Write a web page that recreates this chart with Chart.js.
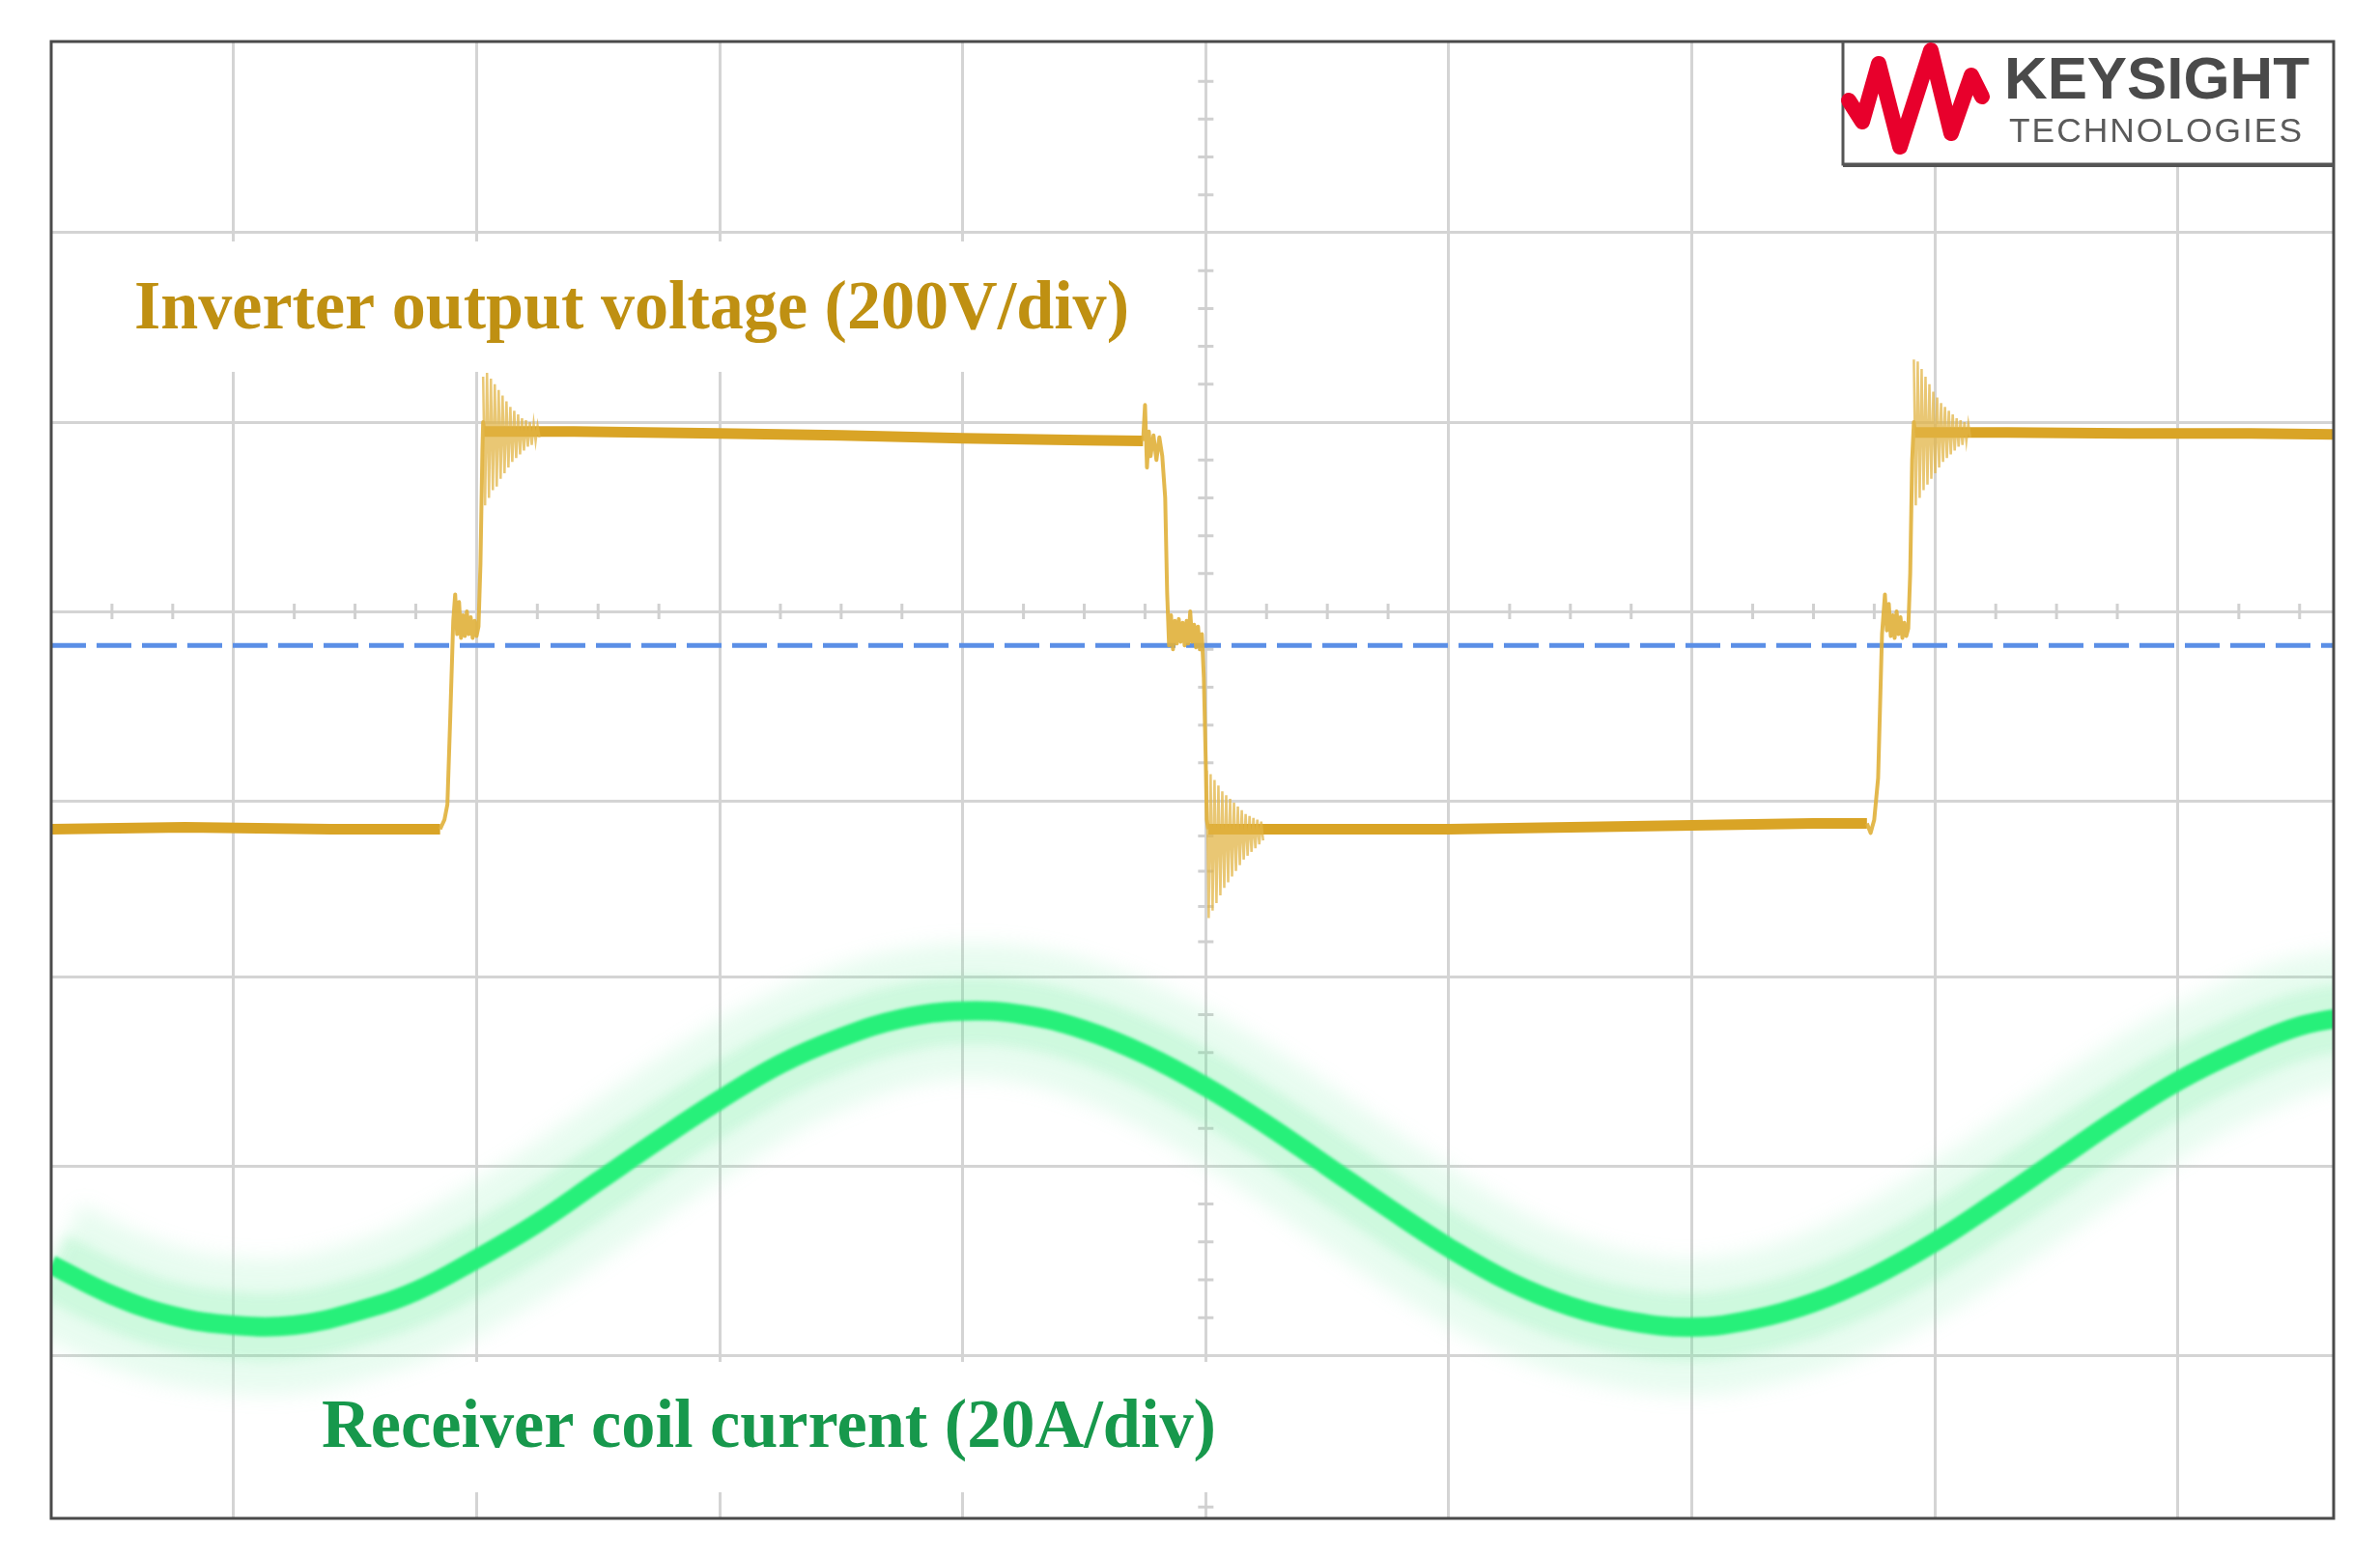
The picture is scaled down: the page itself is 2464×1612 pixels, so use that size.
<!DOCTYPE html>
<html>
<head>
<meta charset="utf-8">
<script src="https://cdn.jsdelivr.net/npm/chart.js@4.4.1/dist/chart.umd.min.js"></script>
<style>
  html, body { margin: 0; padding: 0; background: #fff; }
  canvas { display: block; }
</style>
</head>
<body>
<canvas id="scope" width="2464" height="1612"></canvas>
<script>
// screen in divisions, 0 = centre of the scope grid
const xMin = -4.75, xMax = 4.64;
const yMin = -4.79, yMax = 3.01;
const xGrid = [-4, -3, -2, -1, 0, 1, 2, 3, 4];
const yGrid = [2, 1, 0, -1, -1.93, -2.93, -3.93];

// inverter output voltage (div) - main trace
const voltX = [-4.75, -4.2, -3.6, -3.15, -3.132, -3.12, -3.108, -3.096, -3.088,
  -3.08, -3.072, -3.064, -3.056, -3.048, -3.04, -3.032, -3.024, -3.016, -3.008, -3.0, -2.992,
  -2.984, -2.976, -2.973, -2.968,
  -2.6, -2.0, -1.5, -1.0, -0.5, -0.258,
  -0.25, -0.242, -0.234, -0.227, -0.215, -0.203, -0.191, -0.179, -0.167, -0.159, -0.151,
  -0.143, -0.135, -0.127, -0.119, -0.111, -0.103, -0.095, -0.087, -0.079, -0.072, -0.064,
  -0.056, -0.048, -0.04, -0.032, -0.024, -0.016, -0.008, 0.0, 0.004, 0.01,
  0.5, 1.0, 1.5, 2.0, 2.5, 2.72, 2.735, 2.75, 2.766, 2.782, 2.794,
  2.802, 2.81, 2.818, 2.826, 2.834, 2.842, 2.85, 2.858, 2.866, 2.874, 2.882, 2.89,
  2.898, 2.906, 2.913, 2.918,
  3.3, 3.8, 4.3, 4.64];
const voltY = [-1.15, -1.14, -1.15, -1.15, -1.10, -1.02, -0.55, -0.05, 0.09,
  -0.12, 0.05, -0.14, -0.02, -0.13, 0.0, -0.12, -0.03, -0.14, -0.05, -0.13, -0.08,
  0.25, 0.85, 1.0, 0.95,
  0.95, 0.94, 0.93, 0.915, 0.905, 0.90,
  1.09, 0.76, 0.95, 0.82, 0.93, 0.80, 0.92, 0.82, 0.60, 0.10, -0.18,
  -0.02, -0.20, -0.05, -0.17, -0.04, -0.16, -0.06, -0.18, -0.05, -0.17, 0.0,
  -0.16, -0.07, -0.19, -0.08, -0.20, -0.12, -0.35, -0.80, -1.10, -1.15,
  -1.15, -1.15, -1.14, -1.13, -1.12, -1.12, -1.17, -1.10, -0.88, -0.12, 0.09,
  -0.10, 0.04, -0.13, -0.02, -0.14, 0.0, -0.12, -0.03, -0.14, -0.06, -0.13, -0.09,
  0.20, 0.80, 1.0, 0.945,
  0.945, 0.94, 0.94, 0.935];

// ringing after each switching edge (div)
const ring1X = [-2.973, -2.965, -2.957, -2.949, -2.941, -2.933, -2.925, -2.917, -2.909, -2.901,
  -2.893, -2.885, -2.877, -2.869, -2.861, -2.853, -2.845, -2.837, -2.829, -2.821,
  -2.813, -2.805, -2.797, -2.789, -2.781, -2.773, -2.765, -2.757, -2.749, -2.741];
const ring1Y = [1.24, 0.56, 1.26, 0.60, 1.23, 0.64, 1.20, 0.66, 1.17, 0.70,
  1.14, 0.73, 1.11, 0.76, 1.08, 0.79, 1.06, 0.81, 1.04, 0.83,
  1.02, 0.85, 1.01, 0.87, 1.00, 0.88, 0.99, 0.90, 0.98, 0.92];
const ring2X = [0.004, 0.012, 0.020, 0.028, 0.036, 0.044, 0.052, 0.060, 0.068, 0.076,
  0.084, 0.092, 0.100, 0.108, 0.116, 0.124, 0.132, 0.140, 0.148, 0.156,
  0.164, 0.172, 0.180, 0.188, 0.196, 0.204, 0.212, 0.220, 0.228, 0.236];
const ring2Y = [-0.84, -1.62, -0.86, -1.58, -0.89, -1.54, -0.92, -1.50, -0.95, -1.46,
  -0.97, -1.43, -0.99, -1.40, -1.01, -1.37, -1.03, -1.34, -1.05, -1.31,
  -1.07, -1.29, -1.08, -1.27, -1.09, -1.25, -1.10, -1.23, -1.11, -1.21];
const ring3X = [2.913, 2.921, 2.929, 2.937, 2.945, 2.953, 2.961, 2.969, 2.977, 2.985,
  2.993, 3.001, 3.009, 3.017, 3.025, 3.033, 3.041, 3.049, 3.057, 3.065,
  3.073, 3.081, 3.089, 3.097, 3.105, 3.113, 3.121, 3.129, 3.137, 3.145];
const ring3Y = [1.33, 0.56, 1.32, 0.60, 1.28, 0.64, 1.24, 0.67, 1.20, 0.70,
  1.16, 0.73, 1.13, 0.76, 1.10, 0.79, 1.08, 0.81, 1.06, 0.83,
  1.04, 0.85, 1.02, 0.87, 1.01, 0.88, 1.00, 0.90, 0.99, 0.92];

// receiver coil current (div)
const currX = [-4.75, -4.5, -4.25, -4.0, -3.75, -3.5, -3.25, -3.0, -2.75, -2.5, -2.25, -2.0,
  -1.75, -1.5, -1.25, -1.0, -0.75, -0.5, -0.25, 0, 0.25, 0.5, 0.75, 1.0, 1.25, 1.5, 1.75,
  2.0, 2.25, 2.5, 2.75, 3.0, 3.25, 3.5, 3.75, 4.0, 4.25, 4.5, 4.75];
const currY = [-3.45, -3.61, -3.72, -3.77, -3.77, -3.70, -3.59, -3.42, -3.23, -3.01, -2.79,
  -2.58, -2.39, -2.25, -2.15, -2.11, -2.13, -2.21, -2.34, -2.51, -2.71, -2.93, -3.15, -3.36,
  -3.54, -3.67, -3.75, -3.78, -3.74, -3.65, -3.51, -3.33, -3.12, -2.90, -2.68, -2.48, -2.32,
  -2.19, -2.13];

// voltage channel ground marker
const refX = [xMin, xMax];
const refY = [-0.18, -0.18];

const voltLabel = 'Inverter output voltage (200V/div)';
const currLabel = 'Receiver coil current (20A/div)';

const pts = (xs, ys) => xs.map((x, i) => ({ x: x, y: ys[i] }));
const steep = ctx => Math.abs(ctx.p1.x - ctx.p0.x) < 14;

const softGlow = {
    id: 'softGlow',
    beforeDatasetDraw(chart, args) {
        const ds = chart.data.datasets[args.index];
        if (ds.blur) {
            chart.ctx.save();
            chart.ctx.filter = 'blur(' + ds.blur + 'px)';
        }
    },
    afterDatasetDraw(chart, args) {
        if (chart.data.datasets[args.index].blur) chart.ctx.restore();
    }
};

function fitText(ctx, str, x, y, width) {
    const w = ctx.measureText(str).width;
    ctx.save();
    ctx.translate(x, y);
    ctx.scale(width / w, 1);
    ctx.fillText(str, 0, 0);
    ctx.restore();
}

const screenDeco = {
    id: 'screenDeco',
    beforeDatasetsDraw(chart) {
        const ctx = chart.ctx;
        const xs = chart.scales.x, ys = chart.scales.y;
        const x0 = xs.getPixelForValue(0), y0 = ys.getPixelForValue(0);
        ctx.save();
        // minor ticks on the centre cross
        ctx.strokeStyle = '#d0d0d0';
        ctx.lineWidth = 3;
        ctx.beginPath();
        const xl = [-5].concat(xGrid, [5]);
        for (let i = 0; i < xl.length - 1; i++) {
            for (let j = 1; j < 4; j++) {
                const v = xl[i] + (xl[i + 1] - xl[i]) * j / 4;
                if (v <= xMin || v >= xMax) continue;
                const px = xs.getPixelForValue(v);
                ctx.moveTo(px, y0 - 8); ctx.lineTo(px, y0 + 8);
            }
        }
        const yl = [3].concat(yGrid, [-4.93]);
        for (let i = 0; i < yl.length - 1; i++) {
            for (let j = 1; j < 5; j++) {
                const v = yl[i] + (yl[i + 1] - yl[i]) * j / 5;
                if (v <= yMin || v >= yMax) continue;
                const py = ys.getPixelForValue(v);
                ctx.moveTo(x0 - 8, py); ctx.lineTo(x0 + 8, py);
            }
        }
        ctx.stroke();
        // white boxes behind the channel labels
        ctx.fillStyle = '#fff';
        ctx.fillRect(110, 250, 1090, 135);
        ctx.fillRect(260, 1410, 1030, 135);
        // logo box
        ctx.fillRect(1908, 43, 508, 127);
        ctx.restore();
    },
    afterDatasetsDraw(chart) {
        const ctx = chart.ctx;
        const a = chart.chartArea;
        ctx.save();
        ctx.strokeStyle = '#4a4a4a';
        ctx.lineWidth = 3;
        ctx.strokeRect(a.left, a.top, a.right - a.left, a.bottom - a.top);

        ctx.font = 'bold 71px "Liberation Serif", "Times New Roman", serif';
        ctx.textBaseline = 'alphabetic';
        ctx.fillStyle = '#BF9012';
        fitText(ctx, voltLabel, 139, 340, 1030);
        ctx.fillStyle = '#17984C';
        fitText(ctx, currLabel, 333, 1498, 926);

        // Keysight logo
        ctx.strokeStyle = '#555';
        ctx.lineWidth = 3;
        ctx.beginPath();
        ctx.moveTo(1908, 43); ctx.lineTo(1908, 170); ctx.lineTo(2416, 170);
        ctx.stroke();
        ctx.lineWidth = 2;
        ctx.beginPath();
        ctx.moveTo(1908, 172); ctx.lineTo(2416, 172);
        ctx.stroke();
        const wave = [[1914, 104], [1928, 126], [1945, 66], [1967, 152], [1999, 52], [2020, 138], [2041, 78], [2052, 100]];
        ctx.strokeStyle = '#E8002C';
        ctx.lineWidth = 16;
        ctx.lineJoin = 'round';
        ctx.lineCap = 'round';
        ctx.beginPath();
        ctx.moveTo(wave[0][0], wave[0][1]);
        for (let i = 1; i < wave.length; i++) ctx.lineTo(wave[i][0], wave[i][1]);
        ctx.stroke();
        ctx.fillStyle = '#4a4a4a';
        ctx.font = 'bold 62px "Liberation Sans", Arial, sans-serif';
        fitText(ctx, 'KEYSIGHT', 2075, 102, 316);
        ctx.fillStyle = '#5a5a5a';
        ctx.font = '35px "Liberation Sans", Arial, sans-serif';
        ctx.letterSpacing = '2px';
        fitText(ctx, 'TECHNOLOGIES', 2080, 147, 305);
        ctx.restore();
    }
};

const gridStyle = { color: '#d4d4d4', lineWidth: 3, drawTicks: false };

function ringSet(xs, ys) {
    return {
        label: 'ringing',
        data: pts(xs, ys),
        showLine: true,
        pointRadius: 0,
        borderColor: 'rgba(226,180,70,0.75)',
        borderWidth: 2.5,
        order: 0
    };
}

new Chart(document.getElementById('scope'), {
    type: 'scatter',
    data: {
        datasets: [
            ringSet(ring1X, ring1Y),
            ringSet(ring2X, ring2Y),
            ringSet(ring3X, ring3Y),
            {
                label: 'voltage',
                data: pts(voltX, voltY),
                showLine: true,
                pointRadius: 0,
                borderColor: '#D9A426',
                borderWidth: 11,
                borderJoinStyle: 'round',
                order: 1,
                segment: {
                    borderWidth: ctx => steep(ctx) ? 4 : 11,
                    borderColor: ctx => steep(ctx) ? 'rgba(224,176,58,0.9)' : '#D9A426'
                }
            },
            {
                label: 'ground',
                data: pts(refX, refY),
                showLine: true,
                pointRadius: 0,
                borderColor: '#5B8FE6',
                borderWidth: 5,
                borderDash: [36, 11],
                order: 2
            },
            {
                label: 'current',
                data: pts(currX, currY),
                showLine: true,
                pointRadius: 0,
                borderColor: '#27F07A',
                borderWidth: 20,
                tension: 0.4,
                blur: 1.5,
                order: 3
            },
            {
                label: 'current halo inner',
                data: pts(currX, currY),
                showLine: true,
                pointRadius: 0,
                borderColor: 'rgba(100,235,150,0.2)',
                borderWidth: 70,
                tension: 0.4,
                blur: 6,
                order: 4
            },
            {
                label: 'current halo outer',
                data: pts(currX, currY),
                showLine: true,
                pointRadius: 0,
                borderColor: 'rgba(110,235,160,0.16)',
                borderWidth: 140,
                tension: 0.4,
                blur: 10,
                order: 5
            }
        ]
    },
    options: {
        responsive: false,
        animation: false,
        devicePixelRatio: 1,
        layout: { padding: { left: 53, top: 43, right: 48, bottom: 40 } },
        plugins: { legend: { display: false }, tooltip: { enabled: false } },
        scales: {
            x: {
                type: 'linear', min: xMin, max: xMax,
                afterBuildTicks: s => { s.ticks = xGrid.map(v => ({ value: v })); },
                ticks: { display: false },
                grid: gridStyle,
                border: { display: false }
            },
            y: {
                type: 'linear', min: yMin, max: yMax,
                afterBuildTicks: s => { s.ticks = yGrid.map(v => ({ value: v })); },
                ticks: { display: false },
                grid: gridStyle,
                border: { display: false }
            }
        }
    },
    plugins: [softGlow, screenDeco]
});
</script>
</body>
</html>
